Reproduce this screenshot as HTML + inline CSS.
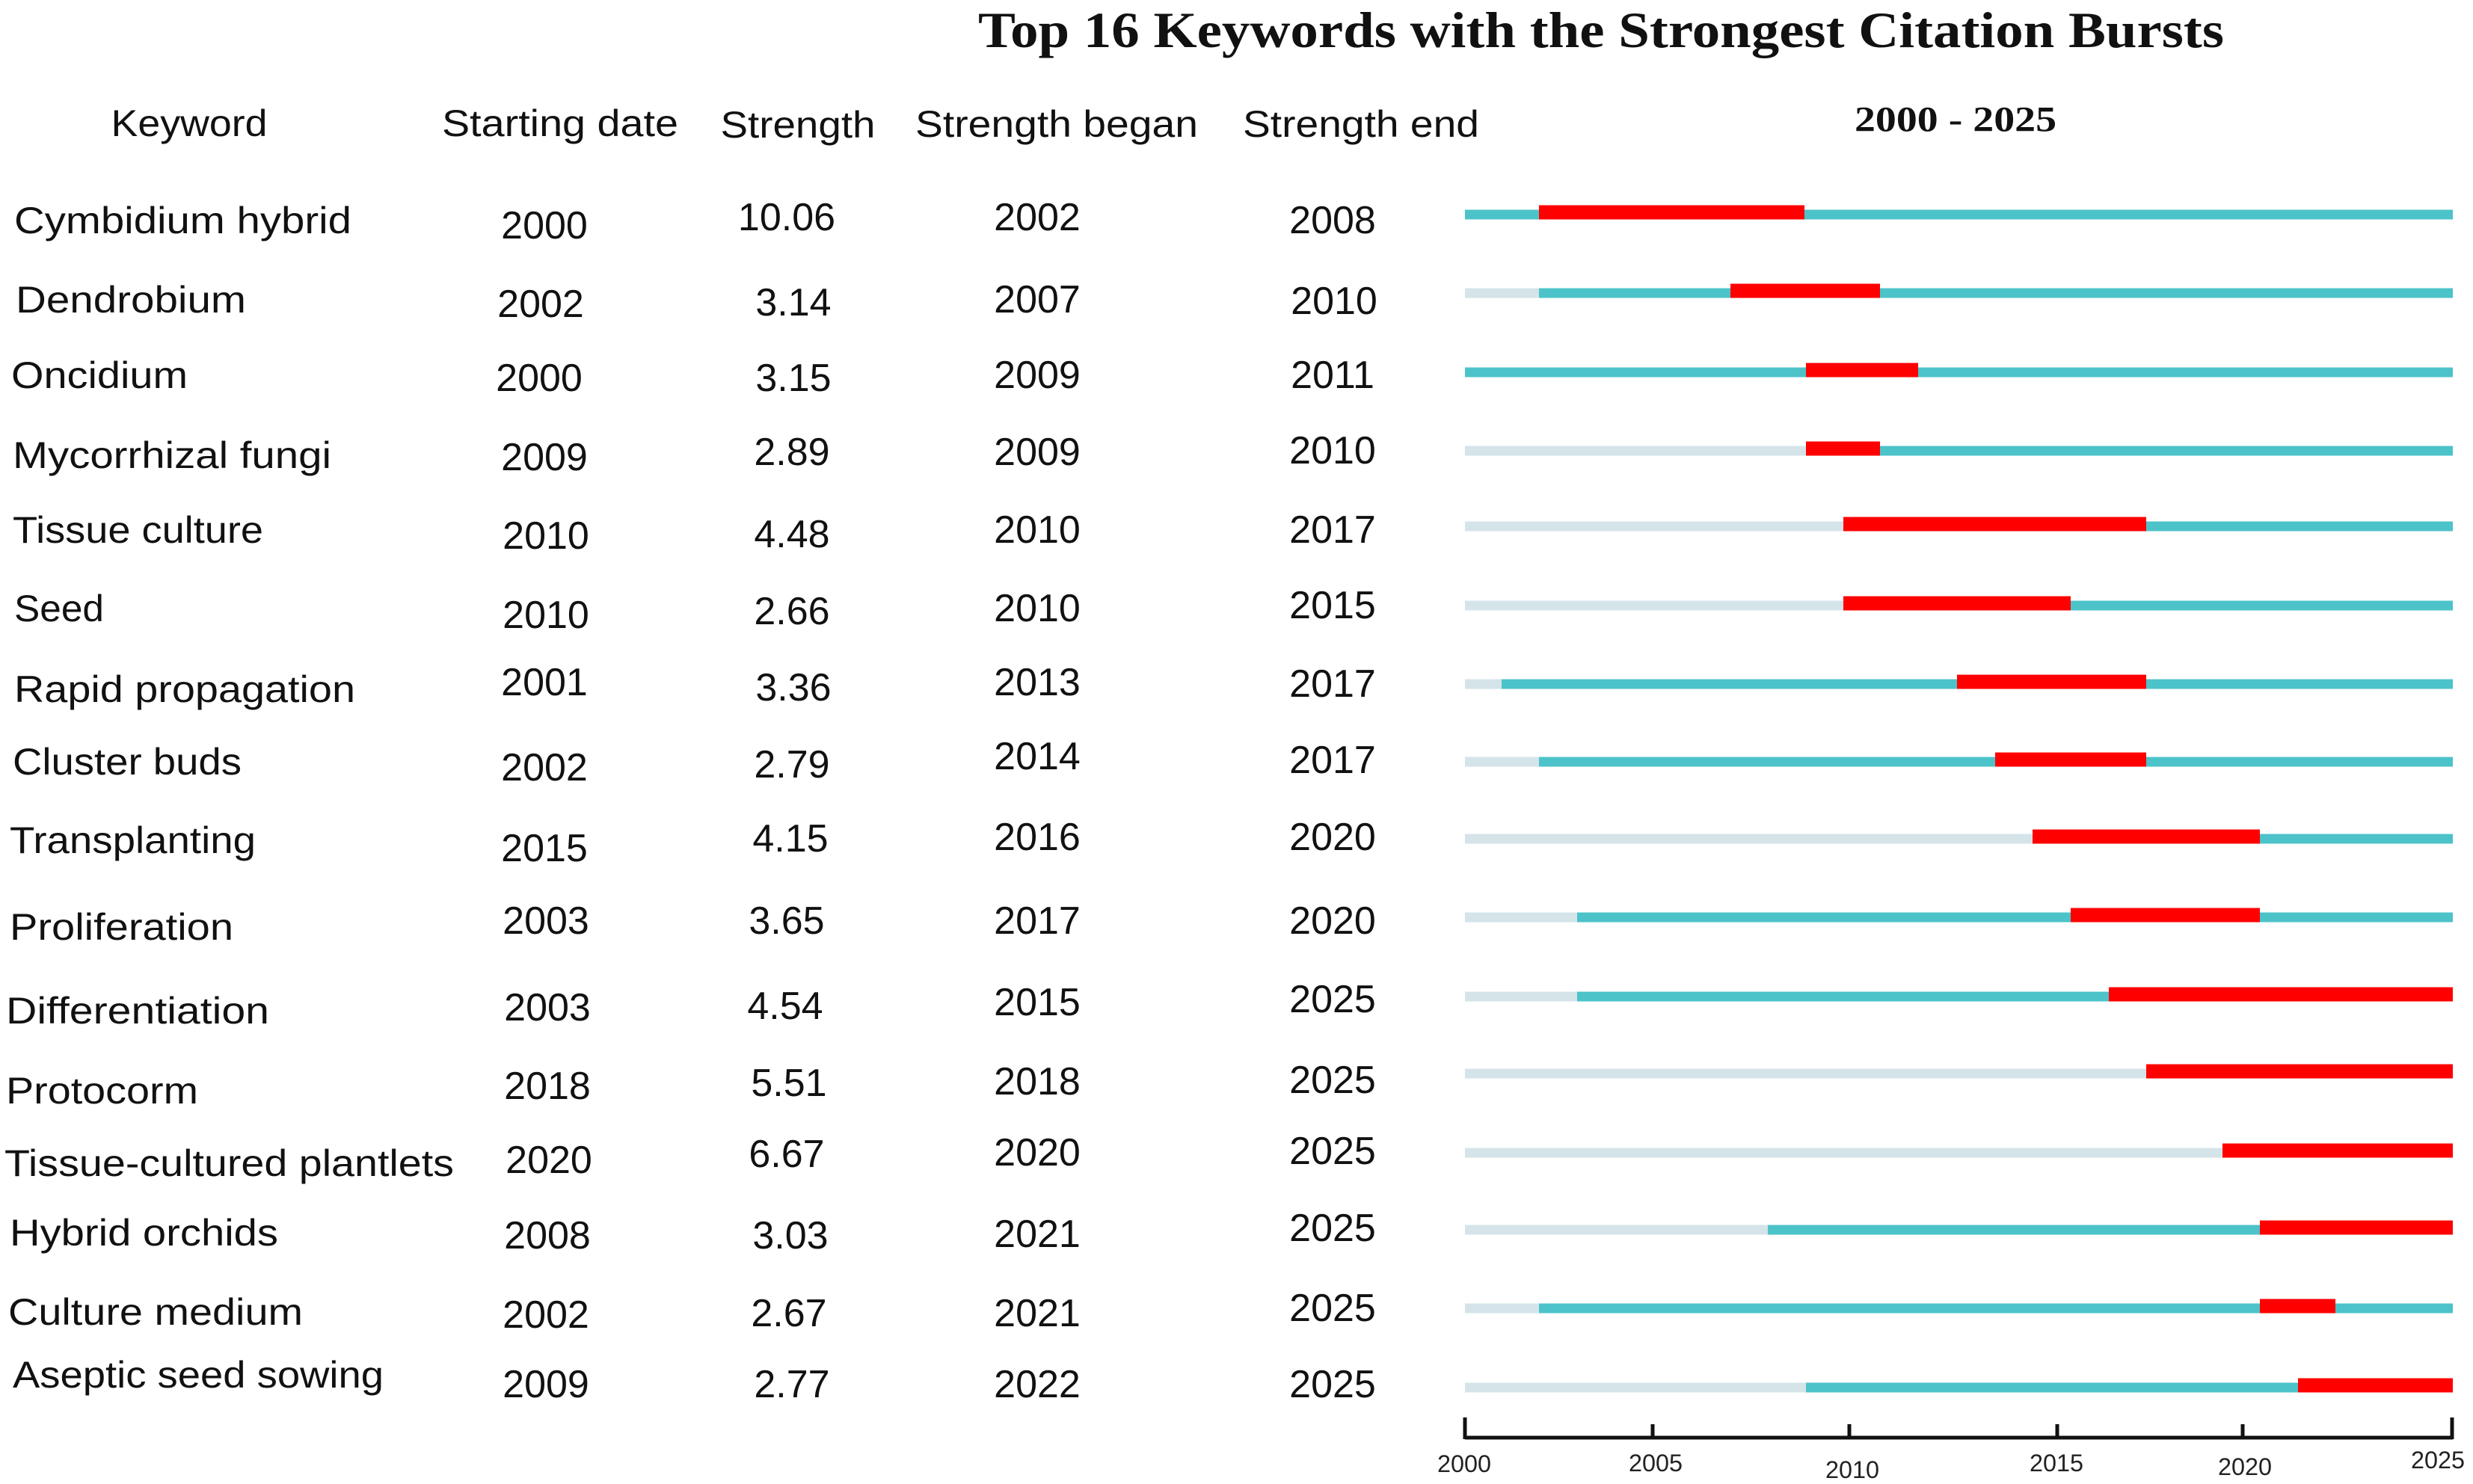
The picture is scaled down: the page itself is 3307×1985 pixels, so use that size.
<!DOCTYPE html>
<html><head><meta charset="utf-8"><style>html,body{margin:0;padding:0;background:#fff}svg{display:block}</style></head><body>
<svg width="3307" height="1985" viewBox="0 0 3307 1985" xmlns="http://www.w3.org/2000/svg">
<rect width="3307" height="1985" fill="#fff"/>
<g font-family="Liberation Serif, serif" font-weight="bold" fill="#111" dominant-baseline="central" text-anchor="middle">
<text x="2141" y="40" font-size="68" textLength="1666" lengthAdjust="spacingAndGlyphs">Top 16 Keywords with the Strongest Citation Bursts</text>
<text x="2615" y="160" font-size="48" textLength="270" lengthAdjust="spacingAndGlyphs">2000 - 2025</text>
</g>
<g font-family="Liberation Sans, sans-serif" font-size="50" fill="#111" dominant-baseline="central" text-anchor="middle">
<text x="253" y="165" textLength="209" lengthAdjust="spacingAndGlyphs">Keyword</text>
<text x="749" y="165" textLength="316" lengthAdjust="spacingAndGlyphs">Starting date</text>
<text x="1067" y="167" textLength="207" lengthAdjust="spacingAndGlyphs">Strength</text>
<text x="1413" y="166" textLength="378" lengthAdjust="spacingAndGlyphs">Strength began</text>
<text x="1820" y="166" textLength="316" lengthAdjust="spacingAndGlyphs">Strength end</text>
</g>
<g font-family="Liberation Sans, sans-serif" font-size="50" fill="#111" dominant-baseline="central" text-anchor="start">
<text x="19" y="295" textLength="451" lengthAdjust="spacingAndGlyphs">Cymbidium hybrid</text>
<text x="21" y="401" textLength="308" lengthAdjust="spacingAndGlyphs">Dendrobium</text>
<text x="15" y="502" textLength="236" lengthAdjust="spacingAndGlyphs">Oncidium</text>
<text x="17" y="609" textLength="426" lengthAdjust="spacingAndGlyphs">Mycorrhizal fungi</text>
<text x="17" y="709" textLength="335" lengthAdjust="spacingAndGlyphs">Tissue culture</text>
<text x="19" y="814" textLength="120" lengthAdjust="spacingAndGlyphs">Seed</text>
<text x="19" y="922" textLength="456" lengthAdjust="spacingAndGlyphs">Rapid propagation</text>
<text x="17" y="1019" textLength="306" lengthAdjust="spacingAndGlyphs">Cluster buds</text>
<text x="13" y="1124" textLength="329" lengthAdjust="spacingAndGlyphs">Transplanting</text>
<text x="13" y="1240" textLength="299" lengthAdjust="spacingAndGlyphs">Proliferation</text>
<text x="8" y="1352" textLength="352" lengthAdjust="spacingAndGlyphs">Differentiation</text>
<text x="8" y="1459" textLength="257" lengthAdjust="spacingAndGlyphs">Protocorm</text>
<text x="6" y="1556" textLength="601" lengthAdjust="spacingAndGlyphs">Tissue-cultured plantlets</text>
<text x="13" y="1649" textLength="359" lengthAdjust="spacingAndGlyphs">Hybrid orchids</text>
<text x="11" y="1755" textLength="394" lengthAdjust="spacingAndGlyphs">Culture medium</text>
<text x="17" y="1839" textLength="496" lengthAdjust="spacingAndGlyphs">Aseptic seed sowing</text>
</g>
<g font-family="Liberation Sans, sans-serif" font-size="52" fill="#111" dominant-baseline="central" text-anchor="middle">
<text x="728" y="302">2000</text><text x="723" y="407">2002</text><text x="721" y="506">2000</text><text x="728" y="612">2009</text>
<text x="730" y="717">2010</text><text x="730" y="823">2010</text><text x="728" y="913">2001</text><text x="728" y="1027">2002</text>
<text x="728" y="1135">2015</text><text x="730" y="1232">2003</text><text x="732" y="1348">2003</text><text x="732" y="1453">2018</text>
<text x="734" y="1552">2020</text><text x="732" y="1653">2008</text><text x="730" y="1759">2002</text><text x="730" y="1852">2009</text>

<text x="1052" y="291">10.06</text><text x="1061" y="405">3.14</text><text x="1061" y="506">3.15</text><text x="1059" y="605">2.89</text>
<text x="1059" y="715">4.48</text><text x="1059" y="818">2.66</text><text x="1061" y="920">3.36</text><text x="1059" y="1023">2.79</text>
<text x="1057" y="1122">4.15</text><text x="1052" y="1232">3.65</text><text x="1050" y="1346">4.54</text><text x="1055" y="1449">5.51</text>
<text x="1052" y="1544">6.67</text><text x="1057" y="1653">3.03</text><text x="1055" y="1757">2.67</text><text x="1059" y="1852">2.77</text>

<text x="1387" y="291">2002</text><text x="1387" y="401">2007</text><text x="1387" y="502">2009</text><text x="1387" y="605">2009</text>
<text x="1387" y="709">2010</text><text x="1387" y="814">2010</text><text x="1387" y="913">2013</text><text x="1387" y="1012">2014</text>
<text x="1387" y="1120">2016</text><text x="1387" y="1232">2017</text><text x="1387" y="1341">2015</text><text x="1387" y="1447">2018</text>
<text x="1387" y="1542">2020</text><text x="1387" y="1651">2021</text><text x="1387" y="1757">2021</text><text x="1387" y="1852">2022</text>

<text x="1782" y="295">2008</text><text x="1784" y="403">2010</text><text x="1782" y="502">2011</text><text x="1782" y="603">2010</text>
<text x="1782" y="709">2017</text><text x="1782" y="810">2015</text><text x="1782" y="915">2017</text><text x="1782" y="1017">2017</text>
<text x="1782" y="1120">2020</text><text x="1782" y="1232">2020</text><text x="1782" y="1337">2025</text><text x="1782" y="1445">2025</text>
<text x="1782" y="1540">2025</text><text x="1782" y="1643">2025</text><text x="1782" y="1750">2025</text><text x="1782" y="1852">2025</text>
</g>
<g>
<!-- row: light, teal, red -->
<rect x="1959" y="280.5" width="1321" height="13" fill="#d4e4e9"/><rect x="1959" y="280.5" width="1321" height="13" fill="#4cc3c9"/><rect x="2058" y="274.5" width="355" height="19" fill="#ff0000"/>
<rect x="1959" y="385.5" width="1321" height="13" fill="#d4e4e9"/><rect x="2058" y="385.5" width="1222" height="13" fill="#4cc3c9"/><rect x="2314" y="379.5" width="200" height="19" fill="#ff0000"/>
<rect x="1959" y="491.5" width="1321" height="13" fill="#d4e4e9"/><rect x="1959" y="491.5" width="1321" height="13" fill="#4cc3c9"/><rect x="2415" y="485.5" width="150" height="19" fill="#ff0000"/>
<rect x="1959" y="596.5" width="1321" height="13" fill="#d4e4e9"/><rect x="2415" y="596.5" width="865" height="13" fill="#4cc3c9"/><rect x="2415" y="590.5" width="99" height="19" fill="#ff0000"/>
<rect x="1959" y="697.5" width="1321" height="13" fill="#d4e4e9"/><rect x="2465" y="697.5" width="815" height="13" fill="#4cc3c9"/><rect x="2465" y="691.5" width="405" height="19" fill="#ff0000"/>
<rect x="1959" y="803.5" width="1321" height="13" fill="#d4e4e9"/><rect x="2465" y="803.5" width="815" height="13" fill="#4cc3c9"/><rect x="2465" y="797.5" width="304" height="19" fill="#ff0000"/>
<rect x="1959" y="908.5" width="1321" height="13" fill="#d4e4e9"/><rect x="2008" y="908.5" width="1272" height="13" fill="#4cc3c9"/><rect x="2617" y="902.5" width="253" height="19" fill="#ff0000"/>
<rect x="1959" y="1012.5" width="1321" height="13" fill="#d4e4e9"/><rect x="2058" y="1012.5" width="1222" height="13" fill="#4cc3c9"/><rect x="2668" y="1006.5" width="202" height="19" fill="#ff0000"/>
<rect x="1959" y="1115.5" width="1321" height="13" fill="#d4e4e9"/><rect x="2718" y="1115.5" width="562" height="13" fill="#4cc3c9"/><rect x="2718" y="1109.5" width="304" height="19" fill="#ff0000"/>
<rect x="1959" y="1220.5" width="1321" height="13" fill="#d4e4e9"/><rect x="2109" y="1220.5" width="1171" height="13" fill="#4cc3c9"/><rect x="2769" y="1214.5" width="253" height="19" fill="#ff0000"/>
<rect x="1959" y="1326.5" width="1321" height="13" fill="#d4e4e9"/><rect x="2109" y="1326.5" width="1171" height="13" fill="#4cc3c9"/><rect x="2820" y="1320.5" width="460" height="19" fill="#ff0000"/>
<rect x="1959" y="1429.5" width="1321" height="13" fill="#d4e4e9"/><rect x="2870" y="1429.5" width="410" height="13" fill="#4cc3c9"/><rect x="2870" y="1423.5" width="410" height="19" fill="#ff0000"/>
<rect x="1959" y="1535.5" width="1321" height="13" fill="#d4e4e9"/><rect x="2972" y="1535.5" width="308" height="13" fill="#4cc3c9"/><rect x="2972" y="1529.5" width="308" height="19" fill="#ff0000"/>
<rect x="1959" y="1638.5" width="1321" height="13" fill="#d4e4e9"/><rect x="2364" y="1638.5" width="916" height="13" fill="#4cc3c9"/><rect x="3022" y="1632.5" width="258" height="19" fill="#ff0000"/>
<rect x="1959" y="1743.5" width="1321" height="13" fill="#d4e4e9"/><rect x="2058" y="1743.5" width="1222" height="13" fill="#4cc3c9"/><rect x="3022" y="1737.5" width="101" height="19" fill="#ff0000"/>
<rect x="1959" y="1849.5" width="1321" height="13" fill="#d4e4e9"/><rect x="2415" y="1849.5" width="865" height="13" fill="#4cc3c9"/><rect x="3073" y="1843.5" width="207" height="19" fill="#ff0000"/>
</g>
<g stroke="#111" stroke-width="5">
<line x1="1959" y1="1923" x2="3280" y2="1923"/>
<line x1="1959" y1="1896" x2="1959" y2="1925"/>
<line x1="2210" y1="1905" x2="2210" y2="1925"/>
<line x1="2473" y1="1905" x2="2473" y2="1925"/>
<line x1="2751" y1="1905" x2="2751" y2="1925"/>
<line x1="2999" y1="1905" x2="2999" y2="1925"/>
<line x1="3279" y1="1896" x2="3279" y2="1925"/>
</g>
<g font-family="Liberation Sans Narrow, Liberation Sans, sans-serif" font-size="32" fill="#222" dominant-baseline="central" text-anchor="middle">
<text x="1958" y="1958" textLength="72" lengthAdjust="spacingAndGlyphs">2000</text>
<text x="2214" y="1957" textLength="72" lengthAdjust="spacingAndGlyphs">2005</text>
<text x="2477" y="1966" textLength="72" lengthAdjust="spacingAndGlyphs">2010</text>
<text x="2750" y="1957" textLength="72" lengthAdjust="spacingAndGlyphs">2015</text>
<text x="3002" y="1962" textLength="72" lengthAdjust="spacingAndGlyphs">2020</text>
<text x="3260" y="1953" textLength="72" lengthAdjust="spacingAndGlyphs">2025</text>
</g>
</svg>
</body></html>
